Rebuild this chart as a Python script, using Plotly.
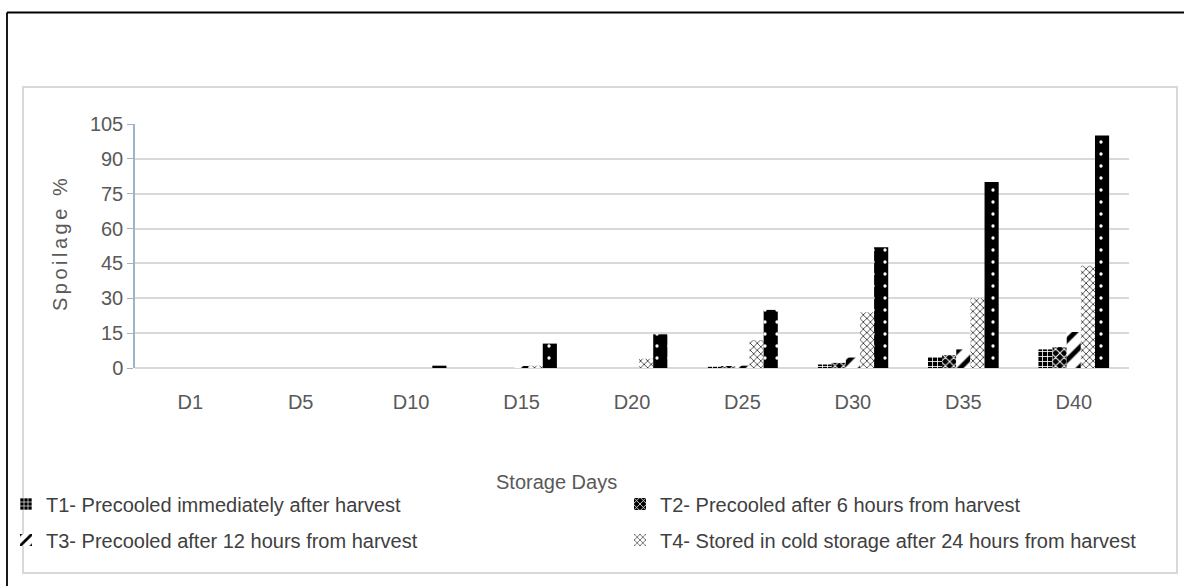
import plotly.graph_objects as go

# Storage days on the category axis
days = ["D1", "D5", "D10", "D15", "D20", "D25", "D30", "D35", "D40"]

# Spoilage (%) per treatment
t1 = [0, 0, 0, 0, 0, 0.8, 1.5, 4.5, 8]
t2 = [0, 0, 0, 0, 0, 0.8, 2.2, 5.5, 9]
t3 = [0, 0, 0, 0.5, 0, 1.0, 4.5, 8, 15.5]
t4 = [0, 0, 0, 1, 4, 12, 24, 30, 44]
t5 = [0, 0, 1, 10.5, 14.5, 25, 52, 80, 100]

names = [
    "T1- Precooled immediately after harvest",
    "T2- Precooled after 6 hours from harvest",
    "T3- Precooled after 12 hours from harvest",
    "T4- Stored in cold storage after 24 hours from harvest",
    "T5",
]

W, H = 1184, 586
L, R, T, B = 135, 1129, 124, 368  # plot area in pixels

def px(x):
    return (x - L) / (R - L)

def py(y):
    return (B - y) / (B - T)

FONT = "Liberation Sans Narrow, Arial Narrow, sans-serif"

patterns = [
    dict(shape="+", bgcolor="black", fgcolor="white", size=5, solidity=0.3),
    dict(shape="x", bgcolor="black", fgcolor="white", size=6, solidity=0.3),
    dict(shape="/", bgcolor="white", fgcolor="black", size=14, solidity=0.35),
    dict(shape="x", bgcolor="white", fgcolor="#333333", size=5, solidity=0.3),
    dict(shape=".", bgcolor="black", fgcolor="white", size=12, solidity=0.06),
]
series = [t1, t2, t3, t4, t5]
legend_ids = ["legend", "legend2", "legend3", "legend4", "legend"]

fig = go.Figure()
for i, (vals, nm, pat) in enumerate(zip(series, names, patterns)):
    fig.add_trace(go.Bar(
        x=days, y=vals, name=nm,
        marker=dict(color=pat["bgcolor"], pattern=dict(fillmode="replace", **pat),
                    line=dict(width=0)),
        legend=legend_ids[i],
        showlegend=(i < 4),
    ))

frame = [
    # outer black frame (left and top edges)
    dict(type="line", xref="paper", yref="paper", x0=px(7), x1=px(7), y0=py(12.5), y1=py(590),
         line=dict(color="black", width=1.8)),
    dict(type="line", xref="paper", yref="paper", x0=px(7), x1=px(1190), y0=py(12.5), y1=py(12.5),
         line=dict(color="black", width=1.8)),
    # light chart-area box
    dict(type="rect", xref="paper", yref="paper", x0=px(23), x1=px(1177), y0=py(87), y1=py(573),
         line=dict(color="#d9d9d9", width=2), fillcolor="rgba(0,0,0,0)", layer="below"),
]

# one legend box per entry, laid out as two rows of two
legend_pos = {"legend": (6, 504), "legend2": (620, 504), "legend3": (6, 540), "legend4": (620, 540)}

def legend_box(pos):
    x, y = pos
    return dict(
        x=px(x), y=py(y), xanchor="left", yanchor="middle",
        itemwidth=30,
        font=dict(family=FONT, size=20, color="#404040"),
        bgcolor="rgba(0,0,0,0)", borderwidth=0,
    )

fig.update_layout(
    width=W, height=H,
    margin=dict(l=L, r=W - R, t=T, b=H - B, autoexpand=False),
    paper_bgcolor="white", plot_bgcolor="white",
    barmode="group", bargap=0.36, bargroupgap=0,
    shapes=frame,
    font=dict(family=FONT, size=20, color="#595959"),
    xaxis=dict(
        showline=False, ticks="", showgrid=False, ticklabelstandoff=20,
        tickfont=dict(family=FONT, size=20, color="#595959"),
    ),
    yaxis=dict(
        range=[0, 105], dtick=15, tick0=0,
        showgrid=True, gridcolor="#d9d9d9", gridwidth=1.5,
        zeroline=True, zerolinecolor="#d9d9d9", zerolinewidth=1.5,
        showline=True, linecolor="#9fb3c8", linewidth=1.5,
        ticks="outside", ticklen=6, tickcolor="#9fb3c8",
        tickfont=dict(family=FONT, size=20, color="#595959"),
    ),
    annotations=[
        dict(text='<span style="letter-spacing:3.5px">Spoilage %</span>', textangle=-90,
             xref="paper", yref="paper", x=px(60), y=py(243),
             xanchor="center", yanchor="middle",
             showarrow=False, font=dict(family=FONT, size=20, color="#595959")),
        dict(text="Storage Days", xref="paper", yref="paper", x=px(556), y=py(482),
             xanchor="center", yanchor="middle",
             showarrow=False, font=dict(family=FONT, size=20, color="#595959")),
    ],
)
fig.update_layout(**{k: legend_box(v) for k, v in legend_pos.items()})

fig.write_html("out.html")
